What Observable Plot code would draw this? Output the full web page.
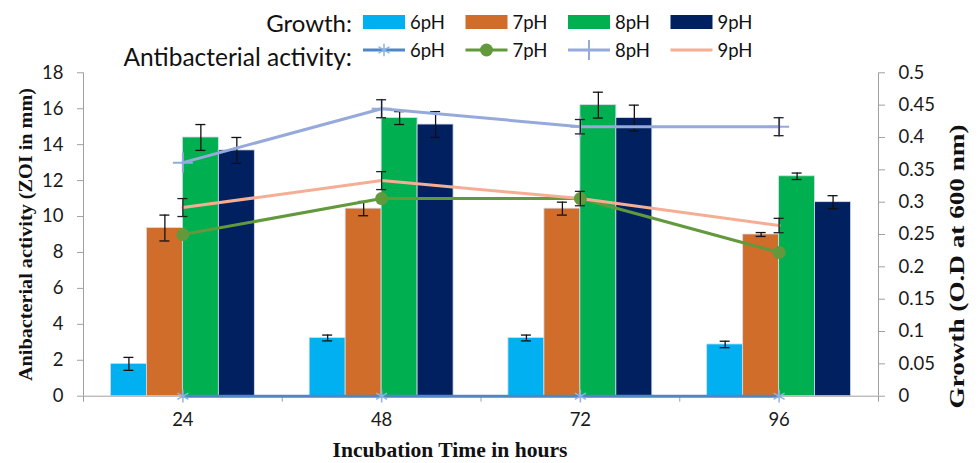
<!DOCTYPE html>
<html>
<head>
<meta charset="utf-8">
<script src="https://cdn.jsdelivr.net/npm/d3@7"></script>
<script src="https://cdn.jsdelivr.net/npm/@observablehq/plot@0.6"></script>
<style>
  html, body { margin: 0; padding: 0; background: #fff; }
  body { position: relative; width: 978px; height: 463px; overflow: hidden; }
  #legend { position: absolute; left: 0; top: 0; z-index: 2; line-height: 0; }
  #chart { position: absolute; left: 0; top: 62px; z-index: 1; line-height: 0; }
</style>
</head>
<body>
<div id="chart"></div>
<div id="legend"></div>
<script>
// ---------- data ----------
const hours = ["24", "48", "72", "96"];
const phLevels = ["6pH", "7pH", "8pH", "9pH"];

// Growth (O.D at 600 nm) - bars, right axis
const growth6pH = [0.05, 0.09, 0.09, 0.08];
const growth7pH = [0.26, 0.29, 0.29, 0.25];
const growth8pH = [0.40, 0.43, 0.45, 0.34];
const growth9pH = [0.38, 0.42, 0.43, 0.30];
const growthErr6pH = [0.010, 0.0045, 0.0045, 0.005];
const growthErr7pH = [0.020, 0.011, 0.010, 0.003];
const growthErr8pH = [0.020, 0.010, 0.020, 0.005];
const growthErr9pH = [0.020, 0.020, 0.020, 0.010];

// Antibacterial activity (ZOI in mm) - lines, left axis
const zoi6pH = [0, 0, 0, 0];
const zoi7pH = [9, 11, 11, 8];
const zoi8pH = [13, 16, 15, 15];
const zoi9pH = [10.5, 12, 11, 9.5];
const zoiErr6pH = [0, 0, 0, 0];
const zoiErr7pH = [0, 0, 0, 0];
const zoiErr8pH = [0, 0.5, 0.4, 0.5];
const zoiErr9pH = [0.5, 0.5, 0.4, 0.4];

const leftTicks = [0, 2, 4, 6, 8, 10, 12, 14, 16, 18];
const rightTicks = [0, 0.05, 0.1, 0.15, 0.2, 0.25, 0.3, 0.35, 0.4, 0.45, 0.5];
const rightTickLabels = ["0", "0.05", "0.1", "0.15", "0.2", "0.25", "0.3", "0.35", "0.4", "0.45", "0.5"];

const leftTitle = "Anibacterial activity (ZOI in mm)";
const rightTitle = "Growth (O.D at 600 nm)";
const xTitle = "Incubation Time in hours";
const legendGrowthLabel = "Growth:";
const legendActivityLabel = "Antibacterial activity:";

// ---------- styles ----------
const barColors = ["#00B0F0", "#D16D2A", "#00B050", "#002060"];
const lineColors = ["#4F86C6", "#63993D", "#95A9DA", "#F5AE94"];
const markerColors = ["#8DB3E2", "#63993D", "#95A9DA", "#F5AE94"];
const axisGray = "#A0A0A0";
const tickFont = "Lato, 'Open Sans', sans-serif";
const titleFont = "'Liberation Serif', 'DejaVu Serif', serif";

const leftMax = leftTicks[leftTicks.length - 1];
const rightMax = rightTicks[rightTicks.length - 1];
const odToMm = leftMax / rightMax;   // secondary axis conversion

const growthSeries = [growth6pH, growth7pH, growth8pH, growth9pH];
const growthErrSeries = [growthErr6pH, growthErr7pH, growthErr8pH, growthErr9pH];
const zoiSeries = [zoi6pH, zoi7pH, zoi8pH, zoi9pH];
const zoiErrSeries = [zoiErr6pH, zoiErr7pH, zoiErr8pH, zoiErr9pH];

const groupFrac = 0.724;                 // share of each category occupied by bars
const barW = groupFrac / phLevels.length;

const barRows = [];
hours.forEach((h, i) => {
  phLevels.forEach((p, k) => {
    const x1 = i + 0.5 - groupFrac / 2 + k * barW;
    barRows.push({
      hour: h, ph: p, k,
      x1, x2: x1 + barW, xc: x1 + barW / 2,
      v: growthSeries[k][i] * odToMm,
      e: growthErrSeries[k][i] * odToMm
    });
  });
});

const lineRows = [];
phLevels.forEach((p, k) => {
  hours.forEach((h, i) => {
    lineRows.push({hour: h, ph: p, k, xc: i + 0.5, v: zoiSeries[k][i], e: zoiErrSeries[k][i]});
  });
});
const lineErrRows = lineRows.filter(d => d.e > 0);

// ---------- legend ----------
const LW = 978, LH = 74;
const leg = d3.select("#legend").append("svg")
  .attr("width", LW).attr("height", LH)
  .style("display", "block").style("overflow", "visible");
const rowY = [22, 50];
const itemX0 = 363, itemStep = 102.5, sampleW = 42;
leg.append("text").text(legendGrowthLabel)
  .attr("x", 352).attr("y", rowY[0]).attr("text-anchor", "end")
  .attr("dominant-baseline", "central")
  .style("font-family", tickFont).style("font-size", "24px").attr("fill", "#111");
leg.append("text").text(legendActivityLabel)
  .attr("x", 352).attr("y", rowY[1] + 6).attr("text-anchor", "end")
  .attr("dominant-baseline", "central")
  .style("font-family", tickFont).style("font-size", "24.5px").attr("fill", "#111");
phLevels.forEach((p, k) => {
  const x0 = itemX0 + k * itemStep;
  leg.append("rect").attr("x", x0).attr("y", rowY[0] - 7)
    .attr("width", sampleW).attr("height", 14).attr("fill", barColors[k]);
  leg.append("text").text(p).attr("x", x0 + sampleW + 5).attr("y", rowY[0])
    .attr("dominant-baseline", "central")
    .style("font-family", tickFont).style("font-size", "18.5px").attr("fill", "#111");
  leg.append("line").attr("x1", x0).attr("x2", x0 + sampleW)
    .attr("y1", rowY[1]).attr("y2", rowY[1])
    .attr("stroke", lineColors[k]).attr("stroke-width", 3);
  const cx = x0 + sampleW / 2;
  if (k === 0) {
    leg.append("path").attr("d", d3.symbol(d3.symbolAsterisk, Math.PI * 36)())
      .attr("transform", `translate(${cx},${rowY[1]})`)
      .attr("fill", "none").attr("stroke", markerColors[k]).attr("stroke-width", 1.5);
  } else if (k === 1) {
    leg.append("circle").attr("cx", cx).attr("cy", rowY[1]).attr("r", 6.5).attr("fill", markerColors[k]);
  } else if (k === 2) {
    leg.append("path").attr("d", d3.symbol(d3.symbolPlus, Math.PI * 42)())
      .attr("transform", `translate(${cx},${rowY[1]})`)
      .attr("fill", "none").attr("stroke", markerColors[k]).attr("stroke-width", 2);
  }
  leg.append("text").text(p).attr("x", x0 + sampleW + 5).attr("y", rowY[1])
    .attr("dominant-baseline", "central")
    .style("font-family", tickFont).style("font-size", "18.5px").attr("fill", "#111");
});

// ---------- chart ----------
const W = 978, H = 463 - 62;
const fmtRight = d => {
  const idx = rightTicks.findIndex(t => Math.abs(t * odToMm - d) < 1e-6);
  return idx >= 0 ? rightTickLabels[idx] : "";
};

const chart = Plot.plot({
  width: W,
  height: H,
  marginLeft: 83,
  marginRight: 100,
  marginTop: 10.3,
  marginBottom: 67.3,
  style: {background: "transparent", overflow: "visible", fontFamily: tickFont},
  x: {type: "linear", domain: [0, hours.length]},
  y: {type: "linear", domain: [0, leftMax]},
  marks: [
    // bars (growth)
    Plot.rectY(barRows, {
      x1: "x1", x2: "x2", y1: 0, y2: "v",
      fill: d => barColors[d.k],
      stroke: "#D5DCEA", strokeWidth: 0.8
    }),
    // axes lines
    Plot.ruleX([0, hours.length], {stroke: axisGray, strokeWidth: 1}),
    Plot.ruleY([0], {stroke: axisGray, strokeWidth: 1}),
    // left axis
    Plot.axisY({
      ticks: leftTicks, tickSize: 6, tickPadding: 14, label: null,
      stroke: axisGray, fill: "#1a1a1a", fontSize: 18.5, fontFamily: tickFont,
      tickFormat: d => String(d)
    }),
    // right axis (growth, O.D)
    Plot.axisY({
      anchor: "right", ticks: rightTicks.map(t => t * odToMm), tickSize: 6, tickPadding: 14,
      label: null, stroke: axisGray, fill: "#1a1a1a", fontSize: 18.5, fontFamily: tickFont,
      tickFormat: fmtRight
    }),
    // x axis: boundary ticks
    Plot.axisX({
      ticks: d3.range(0, hours.length + 1), tickSize: 6, tickPadding: 0,
      label: null, stroke: axisGray, tickFormat: () => ""
    }),
    // x axis: category labels
    Plot.axisX({
      ticks: hours.map((h, i) => i + 0.5), tickSize: 0, tickPadding: 17,
      label: null, fill: "#1a1a1a", fontSize: 18.5, fontFamily: tickFont,
      tickFormat: d => hours[Math.floor(d)]
    }),
    // bar error bars
    Plot.ruleX(barRows, {x: "xc", y1: d => d.v - d.e, y2: d => d.v + d.e, stroke: "#111", strokeWidth: 1.3}),
    Plot.ruleY(barRows, {y: d => d.v - d.e, x1: "xc", x2: "xc", insetLeft: -5, insetRight: -5, stroke: "#111", strokeWidth: 1.3}),
    Plot.ruleY(barRows, {y: d => d.v + d.e, x1: "xc", x2: "xc", insetLeft: -5, insetRight: -5, stroke: "#111", strokeWidth: 1.3}),
    // lines (antibacterial activity)
    Plot.line(lineRows, {x: "xc", y: "v", z: "ph", stroke: d => lineColors[d.k], strokeWidth: 3}),
    Plot.dot(lineRows.filter(d => d.k === 0), {x: "xc", y: "v", symbol: "asterisk", r: 6, stroke: markerColors[0], strokeWidth: 1.5}),
    Plot.dot(lineRows.filter(d => d.k === 1), {x: "xc", y: "v", symbol: "circle", r: 6.5, fill: markerColors[1], stroke: "none"}),
    Plot.dot(lineRows.filter(d => d.k === 2), {x: "xc", y: "v", symbol: "plus", r: 6.5, stroke: markerColors[2], strokeWidth: 2}),
    // line error bars
    Plot.ruleX(lineErrRows, {x: "xc", y1: d => d.v - d.e, y2: d => d.v + d.e, stroke: "#222", strokeWidth: 1.3}),
    Plot.ruleY(lineErrRows, {y: d => d.v - d.e, x1: "xc", x2: "xc", insetLeft: -5, insetRight: -5, stroke: "#222", strokeWidth: 1.3}),
    Plot.ruleY(lineErrRows, {y: d => d.v + d.e, x1: "xc", x2: "xc", insetLeft: -5, insetRight: -5, stroke: "#222", strokeWidth: 1.3}),
    // axis titles
    Plot.text([leftTitle], {
      text: d => d, frameAnchor: "left", rotate: -90, dx: -58,
      textAnchor: "middle", lineAnchor: "middle",
      fontFamily: titleFont, fontWeight: "bold", fontSize: 19, fill: "#111"
    }),
    Plot.text([rightTitle], {
      text: d => d, frameAnchor: "right", rotate: -90, dx: 79, dy: 32,
      textAnchor: "middle", lineAnchor: "middle",
      fontFamily: titleFont, fontWeight: "bold", fontSize: 20, fill: "#111"
    }),
    Plot.text([xTitle], {
      text: d => d, frameAnchor: "bottom", dx: -31, dy: 54,
      textAnchor: "middle", lineAnchor: "middle",
      fontFamily: titleFont, fontWeight: "bold", fontSize: 21, fill: "#111"
    })
  ]
});

const titleLengths = new Map([[leftTitle, 293], [rightTitle, 284], [xTitle, 235]]);
d3.select(chart).selectAll("text").each(function () {
  const L = titleLengths.get(this.textContent);
  if (L) d3.select(this).attr("textLength", L).attr("lengthAdjust", "spacingAndGlyphs");
});
d3.select(chart).style("display", "block");
document.getElementById("chart").appendChild(chart);
</script>
</body>
</html>
